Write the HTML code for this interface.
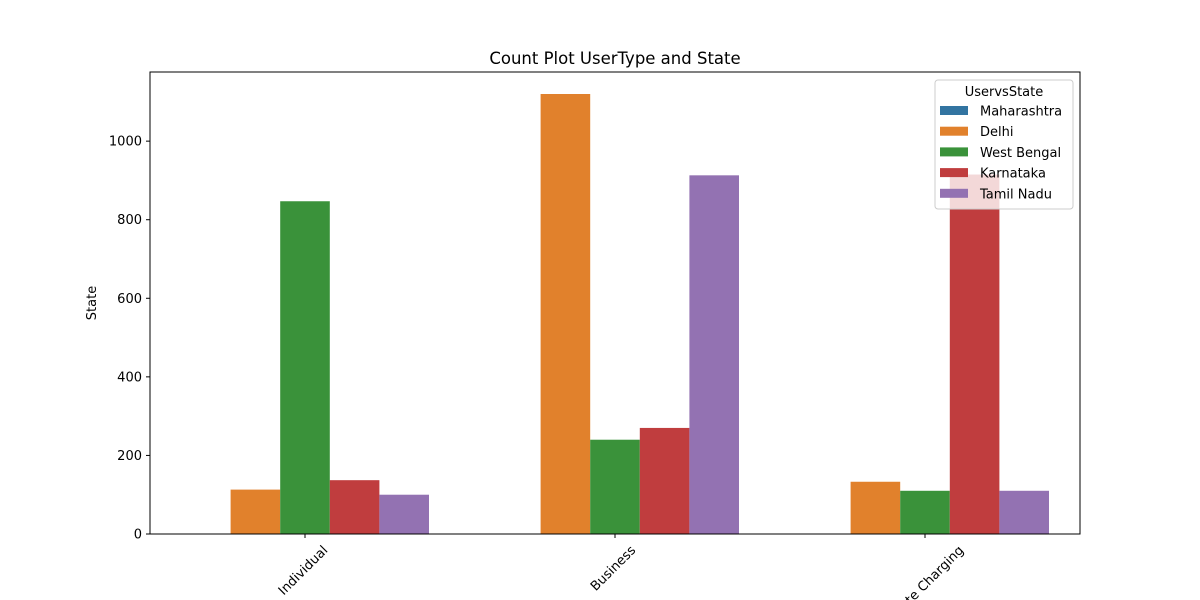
<!DOCTYPE html>
<html><head><meta charset="utf-8"><style>
html,body{margin:0;padding:0;background:#fff;}
svg{display:block;font-family:"DejaVu Sans","Liberation Sans",sans-serif;}
</style></head><body>
<svg id="chart" width="1200" height="600" viewBox="0 0 1200 600" xmlns="http://www.w3.org/2000/svg">
<rect width="1200" height="600" fill="#fff"/>
<text x="615" y="64" text-anchor="middle" font-size="16.5">Count Plot UserType and State</text>
<g id="bars"></g>
<g id="axes"></g>
<g id="legend"></g>
</svg>
<script>
const categories = ["Individual", "Business", "Private Charging"];
const seriesNames = ["Maharashtra", "Delhi", "West Bengal", "Karnataka", "Tamil Nadu"];
const seriesColors = ["#3274a1", "#e1812c", "#3a923a", "#c03d3e", "#9372b2"];
const maharashtra = [0, 0, 0];
const delhi = [113, 1120, 133];
const westBengal = [847, 240, 110];
const karnataka = [137, 270, 915];
const tamilNadu = [100, 913, 110];
const yTicks = [0, 200, 400, 600, 800, 1000];

const series = [maharashtra, delhi, westBengal, karnataka, tamilNadu];
const NS = "http://www.w3.org/2000/svg";
const L = 150, R = 1080, T = 72, B = 534;
const yMax = 1176;
function y(v){ return B - v / yMax * (B - T); }
const band = (R - L) / categories.length;
function xc(i){ return L + band * (i + 0.5); }
const bw = band * 0.8 / series.length;
function mk(tag, attrs, parent){ const e = document.createElementNS(NS, tag); for (const k in attrs) e.setAttribute(k, attrs[k]); parent.appendChild(e); return e; }

const gb = document.getElementById("bars");
series.forEach((s, si) => {
  s.forEach((v, ci) => {
    const x0 = xc(ci) - band * 0.4 + si * bw;
    const r = mk("rect", {x: x0, y: y(v), width: bw, height: B - y(v), fill: seriesColors[si]}, gb);
    
    
  });
});

const ga = document.getElementById("axes");
const frame = mk("rect", {x: L, y: T, width: R - L, height: B - T, fill: "none", stroke: "#000", "stroke-width": 1}, ga);


yTicks.forEach(t => {
  mk("line", {x1: L - 4, x2: L, y1: y(t), y2: y(t), stroke: "#000"}, ga);
  const tx = mk("text", {x: L - 8, y: y(t) + 4.5, "text-anchor": "end", "font-size": 13}, ga);
  tx.textContent = t;
  
  
});
categories.forEach((c, i) => {
  mk("line", {x1: xc(i), x2: xc(i), y1: B, y2: B + 4, stroke: "#000"}, ga);
  const tx = mk("text", {x: 0, y: 0, "text-anchor": "end", "font-size": 13}, ga);
  tx.textContent = c;
  
  
  const w = tx.getComputedTextLength();
  const ax = xc(i) + 0.354 * w + 1, ay = B + 17;
  tx.setAttribute("x", ax);
  tx.setAttribute("y", ay);
  tx.setAttribute("transform", `rotate(-45 ${ax} ${ay})`);
});
const yl = mk("text", {x: 96, y: (T + B) / 2, "text-anchor": "middle", "font-size": 13, transform: `rotate(-90 96 ${(T + B) / 2})`}, ga);
yl.textContent = "State";



const gl = document.getElementById("legend");
const lb = mk("rect", {x: 935, y: 80, width: 138, height: 129, rx: 3, fill: "rgba(255,255,255,0.8)", stroke: "#ccc"}, gl);


const lt = mk("text", {x: 1004, y: 96, "text-anchor": "middle", "font-size": 13}, gl);
lt.textContent = "UservsState";


seriesNames.forEach((n, i) => {
  const yy = 111 + i * 20.7;
  const sw = mk("rect", {x: 940, y: yy - 5, width: 28, height: 9, fill: seriesColors[i]}, gl);
  
  
  const t = mk("text", {x: 980, y: yy + 4.5, "font-size": 13}, gl);
  t.textContent = n;
  
  
});
</script>
</body></html>
